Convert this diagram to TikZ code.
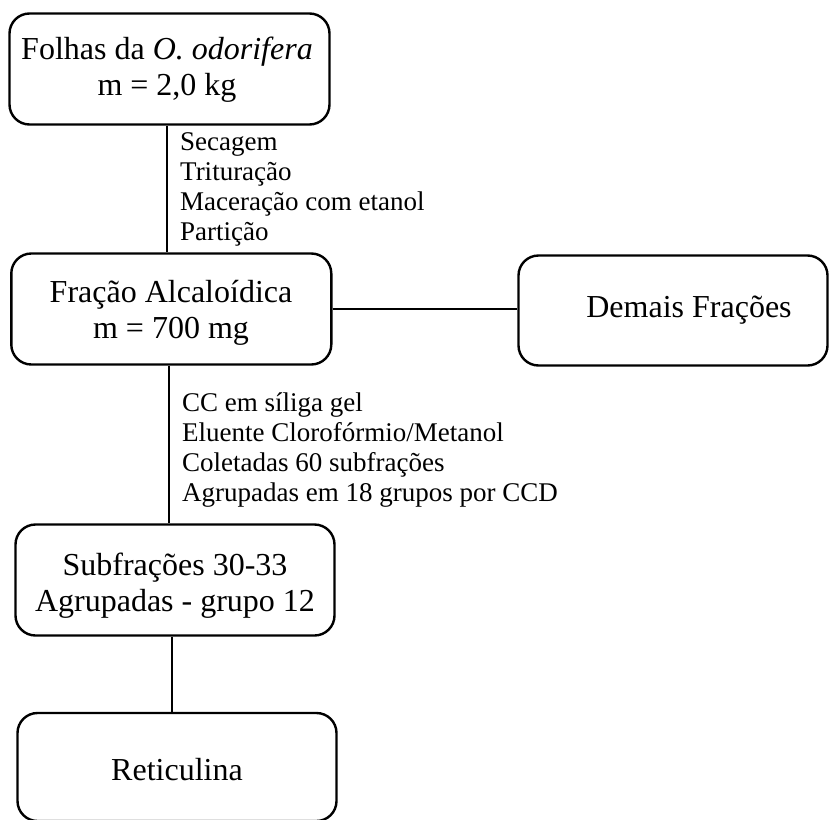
\documentclass[tikz,border=0pt]{standalone}
\usepackage{fontspec}
\setmainfont{Liberation Serif}
\begin{document}
\begin{tikzpicture}[x=1pt,y=-1pt,
  box/.style={draw, line width=2.4pt, rounded corners=20pt, inner sep=0pt},
  big/.style={anchor=base, inner sep=0pt, font=\fontsize{32}{36}\selectfont},
  conn/.style={line width=2pt},
  small/.style={anchor=base west, inner sep=0pt, font=\fontsize{27}{30}\selectfont}]
\useasboundingbox (0,0) rectangle (829,819);
\node[box, minimum width=320pt, minimum height=111pt] (b1) at (169.5,69) {};
\node[box, minimum width=320pt, minimum height=111pt] (b2) at (171.3,309) {};
\node[box, minimum width=309pt, minimum height=110pt] (b3) at (673,310.5) {};
\node[box, minimum width=319pt, minimum height=111pt] (b4) at (175,580) {};
\node[box, minimum width=319pt, minimum height=108pt] (b5) at (177,767) {};
\node[big] (t1a) at (167,59) {Folhas da \textit{O. odorifera}};
\node[big] (t1b) at (167,95) {m = 2,0 kg};
\node[big] (t2a) at (171,302.7) {Fração Alcaloídica};
\node[big] (t2b) at (171,338.5) {m = 700 mg};
\node[big] (t3) at (689,317.7) {Demais Frações};
\node[big] (t4a) at (175,575) {Subfrações 30-33};
\node[big] (t4b) at (175,611.5) {Agrupadas - grupo 12};
\node[big] (t5) at (177,780.7) {Reticulina};
\coordinate (l1) at (167,0);
\coordinate (l2) at (169,0);
\coordinate (l3) at (172,0);
\draw[conn] (l1 |- b1.south) -- (l1 |- b2.north);
\draw[conn] (l2 |- b2.south) -- (l2 |- b4.north);
\draw[conn] (l3 |- b4.south) -- (l3 |- b5.north);
\draw[conn] (b2.east) -- (b2.east -| b3.west);
\node[small] (s1a) at (180,150.7) {Secagem};
\node[small] (s1b) at (180,180.7) {Trituração};
\node[small] (s1c) at (180,210.7) {Maceração com etanol};
\node[small] (s1d) at (180,240.7) {Partição};
\node[small] (s2a) at (182,411.7) {CC em síliga gel};
\node[small] (s2b) at (182,441.7) {Eluente Clorofórmio/Metanol};
\node[small] (s2c) at (182,471.7) {Coletadas 60 subfrações};
\node[small] (s2d) at (182,501.7) {Agrupadas em 18 grupos por CCD};
\end{tikzpicture}
\end{document}
